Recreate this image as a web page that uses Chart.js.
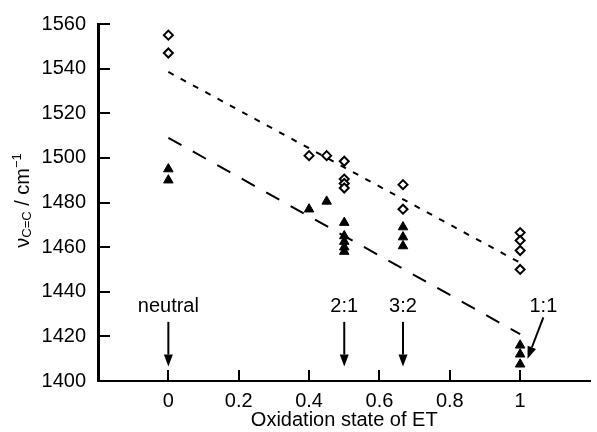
<!DOCTYPE html>
<html>
<head>
<meta charset="utf-8">
<script src="https://cdn.jsdelivr.net/npm/chart.js@4.4.1/dist/chart.umd.min.js"></script>
<style>
  html, body { margin: 0; padding: 0; background: #fff; }
  #chart { display: block; }
</style>
</head>
<body>
<canvas id="chart" width="597" height="432"></canvas>
<script>
// open diamonds
const diamondX = [0, 0, 0.4, 0.45, 0.5, 0.5, 0.5, 0.5, 0.667, 0.667, 1, 1, 1, 1];
const diamondY = [1555, 1547, 1501, 1501, 1498.5, 1490.5, 1488.5, 1486.5, 1488, 1477, 1466.5, 1463, 1458.5, 1450];

// filled triangles
const triangleX = [0, 0, 0.4, 0.45, 0.5, 0.5, 0.5, 0.5, 0.5, 0.667, 0.667, 0.667, 1, 1, 1];
const triangleY = [1495, 1490, 1477, 1480.5, 1471, 1465, 1462.5, 1460, 1458, 1469, 1464.5, 1460.5, 1416, 1412, 1407.5];

// fitted lines
const upperFitX = [0, 1];
const upperFitY = [1538.5, 1453];
const lowerFitX = [0, 1];
const lowerFitY = [1509, 1421];

// axis ticks
const xTicks = [0, 0.2, 0.4, 0.6, 0.8, 1];
const yTicks = [1400, 1420, 1440, 1460, 1480, 1500, 1520, 1540, 1560];

// stoichiometry markers
const markLabels = ["neutral", "2:1", "3:2", "1:1"];
const markLabelX = [0, 0.5, 0.667, 1.066];
const markTailX = [0, 0.5, 0.667, 1.066];
const markTailY = [1426.5, 1426.5, 1426.5, 1428.5];
const markHeadX = [0, 0.5, 0.667, 1.021];
const markHeadY = [1406.5, 1406.5, 1406.5, 1410];
const markLabelY = 1431;

window.Sketch = window.Sketch || {};

(function (ns, document, window) {
    "use strict";

    ns.font = "'Liberation Sans', Arial, Helvetica, sans-serif";

    ns.toPoints = (xs, ys) => xs.map((x, i) => ({ x: x, y: ys[i] }));

    ns.drawArrow = (ctx, x1, y1, x2, y2) => {
        const headLen = 12;
        const headHalf = 4.5;
        const ang = Math.atan2(y2 - y1, x2 - x1);
        const bx = x2 - headLen * Math.cos(ang);
        const by = y2 - headLen * Math.sin(ang);
        ctx.beginPath();
        ctx.moveTo(x1, y1);
        ctx.lineTo(bx, by);
        ctx.stroke();
        ctx.beginPath();
        ctx.moveTo(x2, y2);
        ctx.lineTo(bx + headHalf * Math.sin(ang), by - headHalf * Math.cos(ang));
        ctx.lineTo(bx - headHalf * Math.sin(ang), by + headHalf * Math.cos(ang));
        ctx.closePath();
        ctx.fill();
    };

    ns.drawYTitle = (ctx, area) => {
        const parts = [
            { text: "\u03bd", size: 20, shift: 0 },
            { text: "C=C", size: 13, shift: 2 },
            { text: " / cm", size: 20, shift: 0 },
            { text: "\u22121", size: 13, shift: -8 }
        ];
        ctx.save();
        ctx.translate(29, (area.top + area.bottom) / 2 - 2);
        ctx.rotate(-Math.PI / 2);
        ctx.fillStyle = "#000";
        ctx.textAlign = "left";
        ctx.textBaseline = "alphabetic";
        let total = 0;
        parts.forEach((p) => {
            ctx.font = `${p.size}px ${ns.font}`;
            p.w = ctx.measureText(p.text).width;
            total += p.w;
        });
        let x = -total / 2;
        parts.forEach((p) => {
            ctx.font = `${p.size}px ${ns.font}`;
            ctx.fillText(p.text, x, p.shift);
            x += p.w;
        });
        ctx.restore();
    };

    // inner ticks, y title and the arrows
    const extras = {
        id: "extras",
        afterDraw: (chart) => {
            const { ctx, chartArea } = chart;
            const xs = chart.scales.x;
            const ys = chart.scales.y;
            ctx.save();
            ctx.strokeStyle = "#000";
            ctx.fillStyle = "#000";
            ctx.lineWidth = 2;
            xTicks.forEach((v) => {
                const px = Math.round(xs.getPixelForValue(v));
                ctx.beginPath();
                ctx.moveTo(px, chartArea.bottom);
                ctx.lineTo(px, chartArea.bottom - 11);
                ctx.stroke();
            });
            yTicks.forEach((v) => {
                if (v === ys.min) return;
                const py = Math.round(ys.getPixelForValue(v));
                ctx.beginPath();
                ctx.moveTo(chartArea.left, py);
                ctx.lineTo(chartArea.left + 12, py);
                ctx.stroke();
            });

            ctx.font = `20px ${ns.font}`;
            ctx.textAlign = "center";
            ctx.textBaseline = "alphabetic";
            markLabels.forEach((label, i) => {
                ctx.fillText(label, xs.getPixelForValue(markLabelX[i]), ys.getPixelForValue(markLabelY));
                ns.drawArrow(ctx,
                    xs.getPixelForValue(markTailX[i]), ys.getPixelForValue(markTailY[i]),
                    xs.getPixelForValue(markHeadX[i]), ys.getPixelForValue(markHeadY[i]));
            });
            ctx.restore();

            ns.drawYTitle(ctx, chartArea);
        }
    };

    const tickFont = { family: ns.font, size: 20 };

    ns.chart = new Chart(document.getElementById("chart").getContext("2d"), {
        type: "scatter",
        data: {
            datasets: [
                {
                    data: ns.toPoints(diamondX, diamondY),
                    pointStyle: "rectRot",
                    pointRadius: 4.5,
                    borderWidth: 2,
                    borderColor: "#000",
                    backgroundColor: "#fff",
                    order: 1
                },
                {
                    data: ns.toPoints(triangleX, triangleY),
                    pointStyle: "triangle",
                    pointRadius: 5.5,
                    borderWidth: 1,
                    borderColor: "#000",
                    backgroundColor: "#000",
                    order: 1
                },
                {
                    data: ns.toPoints(upperFitX, upperFitY),
                    showLine: true,
                    pointRadius: 0,
                    borderColor: "#000",
                    borderWidth: 2,
                    borderDash: [6, 8],
                    fill: false,
                    order: 2
                },
                {
                    data: ns.toPoints(lowerFitX, lowerFitY),
                    showLine: true,
                    pointRadius: 0,
                    borderColor: "#000",
                    borderWidth: 2,
                    borderDash: [15, 13],
                    fill: false,
                    order: 2
                }
            ]
        },
        options: {
            responsive: false,
            animation: false,
            events: [],
            layout: { padding: { top: 22, right: 0, bottom: 0, left: 0 } },
            plugins: {
                legend: { display: false },
                tooltip: { enabled: false }
            },
            scales: {
                x: {
                    type: "linear",
                    min: -0.2,
                    max: 1.2,
                    afterBuildTicks: (scale) => { scale.ticks = xTicks.map((v) => ({ value: v })); },
                    afterFit: (scale) => { scale.height = 51; },
                    grid: { display: false, drawTicks: false },
                    border: { display: true, color: "#000", width: 2 },
                    ticks: {
                        color: "#000",
                        padding: 8,
                        maxRotation: 0,
                        autoSkip: false,
                        font: tickFont,
                        callback: (v) => String(v)
                    },
                    title: {
                        display: true,
                        text: "Oxidation state of ET",
                        color: "#000",
                        font: tickFont,
                        padding: { top: 0, bottom: 0 }
                    }
                },
                y: {
                    type: "linear",
                    min: 1400,
                    max: 1560,
                    afterBuildTicks: (scale) => { scale.ticks = yTicks.map((v) => ({ value: v })); },
                    afterFit: (scale) => { scale.width = 98; },
                    grid: { display: false, drawTicks: false },
                    border: { display: true, color: "#000", width: 3 },
                    ticks: {
                        color: "#000",
                        padding: 12,
                        font: tickFont,
                        callback: (v) => String(v)
                    }
                }
            }
        },
        plugins: [extras]
    });
})(window.Sketch, document, window);
</script>
</body>
</html>
